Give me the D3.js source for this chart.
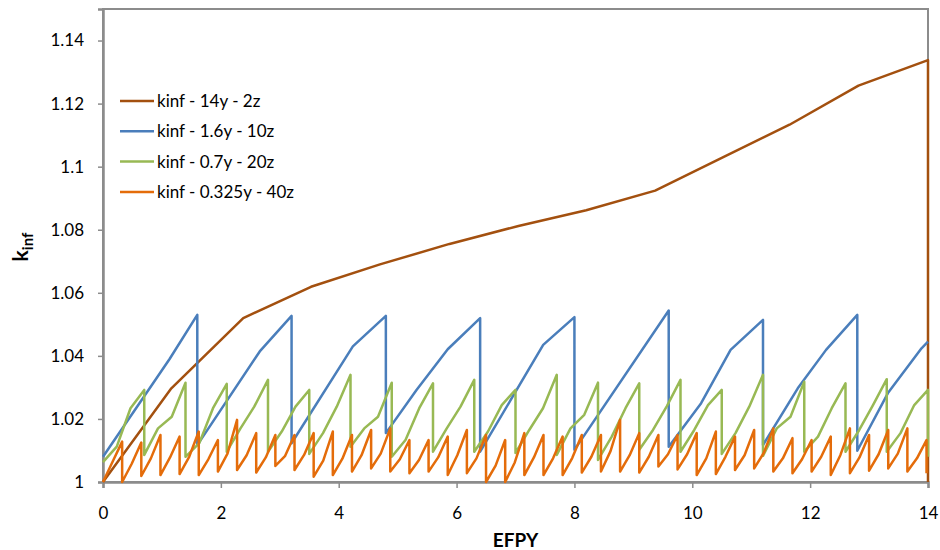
<!DOCTYPE html>
<html>
<head>
<meta charset="utf-8">
<script src="https://cdn.jsdelivr.net/npm/d3@7"></script>
<style>
  body { margin: 0; background: #fff; }
  text { font-family: Lato, "Open Sans", sans-serif; fill: #000; }
</style>
</head>
<body>
<div id="chart"></div>
<script>
// series names (legend order)
const seriesNames = ["kinf - 14y - 2z", "kinf - 1.6y - 10z", "kinf - 0.7y - 20z", "kinf - 0.325y - 40z"];
const seriesColors = ["#a3500f", "#4a7ebb", "#98b954", "#e46c0a"];

// 14y - 2z
const brownX = [0, 1.16, 2.38, 3.53, 4.7, 5.88, 7.05, 8.2, 9.37, 10.5, 11.65, 12.82, 14, 14];
const brownK = [1.0, 1.0297, 1.052, 1.0619, 1.069, 1.0755, 1.0812, 1.0862, 1.0924, 1.1028, 1.1133, 1.1257, 1.1338, 1.0];

// 1.6y - 10z
const blueX = [0, 1.13, 1.6, 1.6, 2.66, 3.2, 3.2, 4.24, 4.8, 4.8, 5.32, 5.85, 6.4, 6.4, 7.47, 8.0, 8.0, 9.6, 9.6, 10.15, 10.65, 11.2, 11.2, 11.79, 12.27, 12.8, 12.8, 13.32, 13.89, 14];
const blueK = [1.008, 1.039, 1.053, 1.0117, 1.0414, 1.0527, 1.0123, 1.043, 1.0527, 1.0155, 1.0292, 1.0421, 1.052, 1.0096, 1.0435, 1.0523, 1.0102, 1.0544, 1.0112, 1.025, 1.0419, 1.0514, 1.0117, 1.0297, 1.0419, 1.053, 1.0099, 1.0282, 1.0424, 1.0445];

// 0.7y - 20z : each cycle = start, two burnup steps, peak
const greenCycle = 0.7;
const greenLow  = [1.0063, 1.0086, 1.008, 1.0096, 1.0096, 1.0089, 1.0112, 1.008, 1.0096, 1.0096, 1.0092, 1.0086, 1.007, 1.0102, 1.0096, 1.0089, 1.0083, 1.0096, 1.0096, 1.0096];
const greenA    = [1.0112, 1.017, 1.0123, 1.017, 1.016, 1.0155, 1.017, 1.0133, 1.017, 1.016, 1.0165, 1.017, 1.0144, 1.0165, 1.0165, 1.0155, 1.017, 1.0144, 1.0165, 1.0155];
const greenB    = [1.0234, 1.0207, 1.0234, 1.0239, 1.0239, 1.0239, 1.0207, 1.0234, 1.0239, 1.0244, 1.0234, 1.0213, 1.0234, 1.024, 1.0244, 1.0239, 1.0207, 1.0234, 1.0244, 1.0244];
const greenPeak = [1.0292, 1.0315, 1.0311, 1.0324, 1.0292, 1.034, 1.0315, 1.0313, 1.0324, 1.0292, 1.034, 1.0315, 1.0313, 1.0324, 1.0292, 1.034, 1.0318, 1.0313, 1.0326, 1.0292];
const greenEnd = 1.008;

// 0.325y - 40z : each cycle = start, mid, peak
const orangeCycle = 0.325;
const orangeLow  = [1.0, 1.0, 1.0019, 1.0022, 1.0025, 1.0022, 1.0033, 1.0038, 1.003, 1.0051,
                    1.0038, 1.0017, 1.0022, 1.0033, 1.0043, 1.0033, 1.0028, 1.0033, 1.0022, 1.0028,
                    1.0, 1.0, 1.0022, 1.0022, 1.0022, 1.003, 1.0033, 1.0033, 1.003, 1.0049,
                    1.004, 1.0022, 1.0025, 1.0038, 1.0043, 1.0033, 1.0028, 1.0033, 1.0022, 1.0028,
                    1.0036, 1.0043, 1.0033];
const orangeMid  = [1.0064, 1.0058, 1.0075, 1.0078, 1.008, 1.0072, 1.009, 1.0085, 1.0078, 1.0082,
                    1.0086, 1.0068, 1.0074, 1.0085, 1.009, 1.0072, 1.007, 1.0078, 1.0085, 1.0075,
                    1.0052, 1.0062, 1.0078, 1.0075, 1.0076, 1.008, 1.0098, 1.0085, 1.008, 1.0088,
                    1.0088, 1.0075, 1.008, 1.0085, 1.0092, 1.0075, 1.0072, 1.008, 1.0085, 1.0078,
                    1.0088, 1.009, 1.0075];
const orangePeak = [1.0128, 1.0125, 1.0149, 1.0144, 1.016, 1.0133, 1.0197, 1.0155, 1.0149, 1.0149,
                    1.0155, 1.016, 1.0149, 1.0165, 1.017, 1.0133, 1.0133, 1.0144, 1.0165, 1.0149,
                    1.0133, 1.0155, 1.0149, 1.0144, 1.0149, 1.0149, 1.0197, 1.0155, 1.0149, 1.0149,
                    1.0155, 1.016, 1.0144, 1.0165, 1.017, 1.0139, 1.0133, 1.0144, 1.017, 1.0149,
                    1.0165, 1.017, 1.0133];
const orangeEnd = 1.0028;

const xTicks = [0, 2, 4, 6, 8, 10, 12, 14];
const yTicks = [1, 1.02, 1.04, 1.06, 1.08, 1.1, 1.12, 1.14];

const width = 940, height = 550;
const plot = { left: 103, right: 928, top: 9, bottom: 482 };

const svg = d3.select("#chart").append("svg")
    .attr("width", width)
    .attr("height", height);

const x = d3.scaleLinear().domain([0, 14]).range([plot.left, plot.right]);
const y = d3.scaleLinear().domain([1, 1.15]).range([plot.bottom, plot.top]);

// build point lists
const brownPts = brownX.map((v, i) => [v, brownK[i]]);
const bluePts = blueX.map((v, i) => [v, blueK[i]]);

const greenPts = [];
greenLow.forEach((lo, i) => {
    const x0 = i * greenCycle;
    greenPts.push([x0, lo]);
    greenPts.push([x0 + greenCycle / 3, greenA[i]]);
    greenPts.push([x0 + 2 * greenCycle / 3, greenB[i]]);
    greenPts.push([x0 + greenCycle, greenPeak[i]]);
});
greenPts.push([greenLow.length * greenCycle, greenEnd]);

const orangePts = [];
orangeLow.forEach((lo, i) => {
    const x0 = i * orangeCycle;
    orangePts.push([x0, lo]);
    orangePts.push([x0 + orangeCycle / 2, orangeMid[i]]);
    orangePts.push([x0 + orangeCycle, orangePeak[i]]);
});
orangePts.push([orangeLow.length * orangeCycle, orangeEnd]);

const allSeries = [brownPts, bluePts, greenPts, orangePts];

// plot frame
svg.append("rect")
    .attr("x", plot.left).attr("y", plot.top)
    .attr("width", plot.right - plot.left).attr("height", plot.bottom - plot.top)
    .attr("fill", "none").attr("stroke", "#8c8c8c").attr("stroke-width", 2);

// axes
const yAxis = svg.append("g")
    .attr("transform", `translate(${plot.left},0)`)
    .call(d3.axisLeft(y).tickValues(yTicks).tickSize(5).tickPadding(14)
        .tickFormat(d => String(+d.toFixed(2))));
const xAxis = svg.append("g")
    .attr("transform", `translate(0,${plot.bottom})`)
    .call(d3.axisBottom(x).tickValues(xTicks).tickSize(6).tickPadding(19));

[yAxis, xAxis].forEach(g => {
    g.select(".domain").attr("stroke", "#8c8c8c").attr("stroke-width", 2.5);
    g.selectAll(".tick line").attr("stroke", "#8c8c8c").attr("stroke-width", 1.5);
    g.selectAll(".tick text").attr("font-size", 17).attr("font-family", "Lato, sans-serif").attr("fill", "#000");
});

// series lines
const line = d3.line().x(d => x(d[0])).y(d => y(d[1]));
svg.append("g").selectAll("path")
    .data(allSeries)
    .join("path")
    .attr("d", line)
    .attr("fill", "none")
    .attr("stroke", (d, i) => seriesColors[i])
    .attr("stroke-width", 2.5)
    .attr("stroke-linejoin", "round");

// axis titles
svg.append("text")
    .attr("x", (plot.left + plot.right) / 2).attr("y", 547)
    .attr("text-anchor", "middle")
    .attr("font-size", 19).attr("font-weight", "bold")
    .text("EFPY");

const yt = svg.append("text")
    .attr("transform", "translate(28,247) rotate(-90)")
    .attr("text-anchor", "middle")
    .attr("font-size", 21).attr("font-weight", "bold");
yt.append("tspan").text("k");
yt.append("tspan").attr("font-size", 15).attr("dy", 5).text("inf");

// legend
const legend = svg.append("g").attr("transform", "translate(120,101)");
seriesNames.forEach((name, i) => {
    const row = legend.append("g").attr("transform", `translate(0,${i * 30.3})`);
    row.append("line")
        .attr("x1", 0).attr("x2", 34)
        .attr("stroke", seriesColors[i]).attr("stroke-width", 2.5);
    row.append("text")
        .attr("x", 37).attr("y", 6)
        .attr("font-size", 17)
        .text(name);
});
</script>
</body>
</html>
